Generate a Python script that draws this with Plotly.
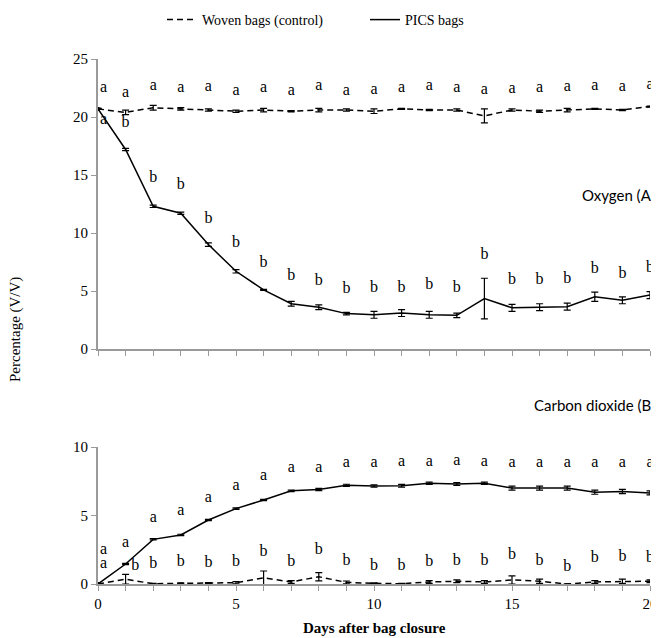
import plotly.graph_objects as go
from plotly.subplots import make_subplots

days = list(range(21))

# Oxygen (%)
o2_woven = [20.7, 20.4, 20.8, 20.7, 20.6, 20.5, 20.6, 20.5, 20.6, 20.6, 20.5,
            20.7, 20.6, 20.6, 20.1, 20.6, 20.5, 20.6, 20.7, 20.6, 20.9]
o2_woven_err = [0.05, 0.2, 0.2, 0.1, 0.1, 0.1, 0.15, 0.05, 0.15, 0.1, 0.2,
                0.05, 0.05, 0.1, 0.6, 0.1, 0.1, 0.15, 0.05, 0.05, 0.05]
o2_pics = [20.7, 17.2, 12.3, 11.7, 9.0, 6.7, 5.1, 3.9, 3.6, 3.05, 2.95,
           3.1, 2.95, 2.9, 4.35, 3.55, 3.6, 3.65, 4.5, 4.2, 4.65]
o2_pics_err = [0.05, 0.1, 0.1, 0.1, 0.15, 0.15, 0.05, 0.2, 0.2, 0.1, 0.3,
               0.3, 0.3, 0.2, 1.75, 0.3, 0.3, 0.3, 0.4, 0.3, 0.3]

# Carbon dioxide (%)
co2_woven = [0.0, 0.35, 0.02, 0.05, 0.08, 0.1, 0.45, 0.15, 0.53, 0.12, 0.05,
             0.02, 0.15, 0.2, 0.15, 0.3, 0.2, 0.0, 0.15, 0.2, 0.2]
co2_woven_err = [0.02, 0.35, 0.02, 0.03, 0.03, 0.08, 0.5, 0.1, 0.3, 0.1, 0.03,
                 0.02, 0.1, 0.1, 0.1, 0.3, 0.15, 0.02, 0.1, 0.15, 0.1]
co2_pics = [0.0, 1.46, 3.26, 3.58, 4.67, 5.5, 6.13, 6.8, 6.9, 7.2, 7.15,
            7.17, 7.35, 7.3, 7.35, 7.0, 7.0, 7.0, 6.7, 6.75, 6.65]
co2_pics_err = [0.02, 0.05, 0.05, 0.05, 0.05, 0.05, 0.05, 0.05, 0.08, 0.08, 0.08,
                0.1, 0.08, 0.1, 0.08, 0.15, 0.15, 0.15, 0.15, 0.15, 0.15]

# Significance letters and their label heights
o2_woven_letters = ["a"] * 21
o2_woven_letter_y = [22.5, 22.1, 22.7, 22.5, 22.6, 22.2, 22.5, 22.2, 22.7, 22.2, 22.3,
                     22.5, 22.7, 22.5, 22.3, 22.4, 22.5, 22.6, 22.7, 22.6, 22.8]
o2_pics_letters = ["a"] + ["b"] * 20
o2_pics_letter_y = [19.7, 19.5, 14.7, 14.1, 11.2, 9.1, 7.4, 6.3, 5.9, 5.2, 5.3,
                    5.3, 5.5, 5.3, 8.1, 5.95, 5.95, 6.0, 6.9, 6.5, 7.0]
co2_pics_letters = ["a"] * 21
co2_pics_letter_y = [2.5, 3.0, 4.85, 5.3, 6.3, 7.15, 7.85, 8.5, 8.5, 8.85, 8.85,
                     8.9, 8.9, 8.95, 8.9, 8.8, 8.8, 8.8, 8.85, 8.85, 8.85]
co2_woven_letters = ["a"] + ["b"] * 20
co2_woven_letter_y = [1.45, 1.35, 1.45, 1.6, 1.55, 1.6, 2.35, 1.6, 2.45, 1.7, 1.35,
                      1.35, 1.6, 1.7, 1.7, 2.1, 1.7, 1.25, 1.9, 1.95, 1.9]

# The page body adds an 8 px offset, so layout pixels below are screen - 8.
W, H = 659, 638
ML, MR, MT, MB = 90, 17, 51, 62
PW, PH = W - ML - MR, H - MT - MB


def py(px):  # figure pixel (from top) -> paper y
    return (H - MB - px) / PH


def pxx(px):  # figure pixel (from left) -> paper x
    return (px - ML) / PW


fig = make_subplots(rows=2, cols=1)

serif = "Liberation Serif"
err_style = dict(type="data", thickness=1.2, width=3.5, color="black")


def add_series(y, err, dash, row, name, show):
    fig.add_trace(go.Scatter(
        x=days, y=y, mode="lines", name=name, showlegend=show,
        line=dict(color="black", width=1.5, dash=dash),
        error_y=dict(array=err, **err_style),
    ), row=row, col=1)
    fig.add_trace(go.Scatter(
        x=[days[0]], y=[y[0]], mode="markers", showlegend=False,
        marker=dict(color="black", size=4), hoverinfo="skip",
    ), row=row, col=1)


DASH = "6px,4px"
add_series(o2_woven, o2_woven_err, DASH, 1, "Woven bags (control)", True)
add_series(o2_pics, o2_pics_err, "solid", 1, "PICS bags", True)
add_series(co2_woven, co2_woven_err, DASH, 2, "Woven bags (control)", False)
add_series(co2_pics, co2_pics_err, "solid", 2, "PICS bags", False)


def add_letters(letters, ys, row, nudge_day1=0.0):
    xs = []
    for d in days:
        off = 0.2 if d == 0 else (nudge_day1 if d == 1 else 0.0)
        xs.append(d + off)
    fig.add_trace(go.Scatter(
        x=xs, y=ys, mode="text", text=letters, showlegend=False,
        textfont=dict(family=serif, size=16, color="black"),
        textposition="middle center", hoverinfo="skip", cliponaxis=False,
    ), row=row, col=1)


add_letters(o2_woven_letters, o2_woven_letter_y, 1)
add_letters(o2_pics_letters, o2_pics_letter_y, 1)
add_letters(co2_pics_letters, co2_pics_letter_y, 2)
add_letters(co2_woven_letters, co2_woven_letter_y, 2, nudge_day1=0.35)

axis_common = dict(showgrid=False, zeroline=False, showline=True,
                   linecolor="#9a9a9a", linewidth=2, ticks="outside",
                   tickcolor="#9a9a9a", ticklen=5, tickwidth=1, automargin=False,
                   tickfont=dict(family=serif, size=15, color="black"))

fig.update_xaxes(range=[0, 20], **axis_common)
fig.update_xaxes(row=1, col=1, tickmode="linear", tick0=0, dtick=1,
                 showticklabels=False)
fig.update_xaxes(row=2, col=1, tickmode="array", tickvals=days,
                 ticktext=[str(d) if d % 5 == 0 else "" for d in days])
fig.update_yaxes(**axis_common)
fig.update_yaxes(row=1, col=1, range=[0, 25], tickvals=[0, 5, 10, 15, 20, 25])
fig.update_yaxes(row=2, col=1, range=[0, 10], tickvals=[0, 5, 10])

fig.update_layout(
    width=W, height=H,
    margin=dict(l=ML, r=MR, t=MT, b=MB, autoexpand=False),
    paper_bgcolor="white", plot_bgcolor="white",
    xaxis=dict(domain=[0, 1], anchor="y"),
    yaxis=dict(domain=[py(341), 1]),
    xaxis2=dict(domain=[0, 1], anchor="y2"),
    yaxis2=dict(domain=[0, py(439)]),
    legend=dict(orientation="h", x=pxx(154), y=py(12), xanchor="left",
                yanchor="middle", font=dict(family=serif, size=14, color="black"),
                itemwidth=30, bgcolor="rgba(0,0,0,0)",
                entrywidthmode="pixels", entrywidth=158),
    showlegend=True,
    annotations=[
        dict(text="Percentage (V/V)", x=pxx(7), xref="paper", xanchor="center",
             y=py(322), yref="paper", yanchor="middle",
             textangle=-90, showarrow=False,
             font=dict(family=serif, size=15, color="black")),
        dict(text="<b>Days after bag closure</b>", x=0.5, xref="paper",
             xanchor="center", y=py(620), yref="paper", yanchor="middle",
             showarrow=False, font=dict(family=serif, size=15, color="black")),
        dict(text="Oxygen (A)", x=pxx(649), xref="paper", xanchor="right",
             y=py(187), yref="paper", yanchor="middle", showarrow=False,
             font=dict(family="Lato", size=15, color="black")),
        dict(text="Carbon dioxide (B)", x=pxx(649), xref="paper", xanchor="right",
             y=py(397), yref="paper", yanchor="middle", showarrow=False,
             font=dict(family="Lato", size=15, color="black")),
    ],
)

fig.write_html("out.html")
